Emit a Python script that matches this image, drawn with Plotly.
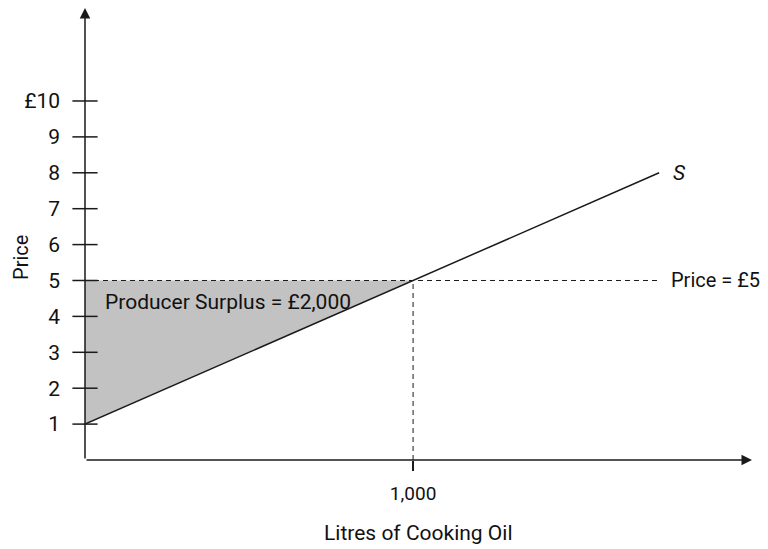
import plotly.graph_objects as go

# ---- data ----
supply_qty = [0, 1750]
supply_price = [1, 8]
eq_qty = 1000
eq_price = 5
surplus_qty = [0, 1000, 0, 0]
surplus_price = [1, 5, 5, 1]
y_tickvals = [1, 2, 3, 4, 5, 6, 7, 8, 9, 10]
y_ticktext = ["1", "2", "3", "4", "5", "6", "7", "8", "9", "£10"]
x_tickvals = [1000]
x_ticktext = ["1,000"]
price_line_end = 1750
x_max = 2033
y_max = 12.59

FONT = "Roboto, sans-serif"
INK = "#1a1a1a"
TXT = "#111"
FS = 21

fig = go.Figure()

# producer surplus triangle
fig.add_trace(go.Scatter(x=surplus_qty, y=surplus_price, mode="lines", fill="toself",
                         fillcolor="#c2c2c2", line=dict(width=0), hoverinfo="skip"))
# price dashed line
fig.add_trace(go.Scatter(x=[0, price_line_end], y=[eq_price, eq_price], mode="lines",
                         line=dict(color=INK, width=1, dash="5px,4px"), hoverinfo="skip"))
# vertical dashed
fig.add_trace(go.Scatter(x=[eq_qty, eq_qty], y=[0, eq_price], mode="lines",
                         line=dict(color=INK, width=1, dash="5px,4px"), hoverinfo="skip"))
# supply line
fig.add_trace(go.Scatter(x=supply_qty, y=supply_price, mode="lines",
                         line=dict(color=INK, width=1.5), hoverinfo="skip"))
# y ticks crossing the axis
fig.add_trace(go.Scatter(x=[0] * len(y_tickvals), y=y_tickvals, mode="markers",
                         marker=dict(symbol="line-ew", size=18, line=dict(color=INK, width=1.5)),
                         hoverinfo="skip", cliponaxis=False))

# axes with arrows
fig.add_annotation(x=x_max, y=0, ax=0, ay=0, xref="x", yref="y", axref="x", ayref="y",
                   showarrow=True, arrowhead=2, arrowsize=1.4, arrowwidth=1.5, arrowcolor=INK, text="")
fig.add_annotation(x=0, y=y_max, ax=0, ay=0, xref="x", yref="y", axref="x", ayref="y",
                   showarrow=True, arrowhead=2, arrowsize=1.4, arrowwidth=1.5, arrowcolor=INK, text="")

fig.add_annotation(x=55, y=4.4, xref="x", yref="y", text="Producer Surplus = £2,000",
                   showarrow=False, xanchor="left", yanchor="middle",
                   font=dict(family=FONT, size=FS, color=TXT))
fig.add_annotation(x=supply_qty[-1], y=supply_price[-1], xref="x", yref="y", text="<i>S</i>",
                   showarrow=False, xanchor="left", yanchor="middle", xshift=12,
                   font=dict(family=FONT, size=FS, color=TXT))
fig.add_annotation(x=price_line_end, y=eq_price, xref="x", yref="y", text="Price = £5",
                   showarrow=False, xanchor="left", yanchor="middle", xshift=10,
                   font=dict(family=FONT, size=20, color=TXT))

# axis titles
fig.add_annotation(x=0.5, y=0, xref="paper", yref="paper", text="Litres of Cooking Oil",
                   showarrow=False, xanchor="center", yanchor="middle", yshift=-73,
                   font=dict(family=FONT, size=FS, color=TXT))
fig.add_annotation(x=0, y=0.447, xref="paper", yref="paper", text="Price", textangle=-90,
                   showarrow=False, xanchor="center", yanchor="middle", xshift=-64,
                   font=dict(family=FONT, size=20, color=TXT))

fig.update_layout(
    width=760, height=541,
    margin=dict(l=77, r=16, t=0, b=89),
    plot_bgcolor="white", paper_bgcolor="white",
    showlegend=False,
    font=dict(family=FONT, size=FS, color=TXT),
    xaxis=dict(range=[0, x_max], showgrid=False, zeroline=False, showline=False,
               tickvals=x_tickvals, ticktext=x_ticktext, ticks="outside", ticklen=10,
               tickcolor=INK, tickwidth=1.5, ticklabelstandoff=6, automargin=False,
               tickfont=dict(family=FONT, size=19, color=TXT)),
    yaxis=dict(range=[0, y_max], showgrid=False, zeroline=False, showline=False,
               tickvals=y_tickvals, ticktext=y_ticktext, ticks="",
               ticklabelstandoff=24, automargin=False,
               tickfont=dict(family=FONT, size=21, color=TXT)),
)

fig.write_html("out.html")
